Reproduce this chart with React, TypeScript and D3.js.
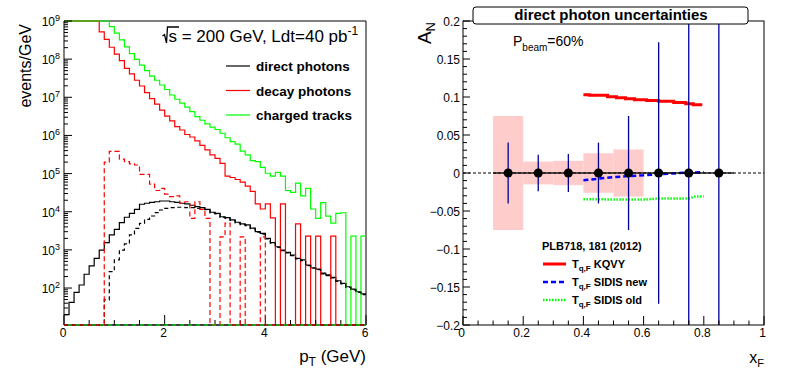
import * as d3 from 'd3'

const FONT = "'Liberation Sans', Arial, Helvetica, sans-serif"

// left pad: pT spectra in 0.1 GeV bins, 0 - 6 GeV
const ptLow = d3.range(60).map(i => i / 10)

const chargedTracks = [
  2e9, 2e9, 2e9, 2e9, 2e9, 2e9, 2e9, 2e9, 2e9, 7.1e8,
  4.8e8, 3.2e8, 2.1e8, 1.4e8, 9.9e7, 7.0e7, 5.0e7, 3.6e7, 2.8e7, 2.1e7,
  1.6e7, 1.15e7, 8.9e6, 7.0e6, 5.5e6, 4.2e6, 3.1e6, 2.5e6, 2.0e6, 1.66e6,
  1.43e6, 1.14e6, 8.7e5, 6.9e5, 5.9e5, 3.9e5, 3.1e5, 2.2e5, 2.05e5, 1.46e5,
  1.02e5, 8.6e4, 1.08e5, 8.6e4, 3.6e4, 3.2e4, 5.6e4, 2.6e4, 4.1e4, 1.18e4,
  6.7e3, 1.73e4, 7.7e3, 5.0e3, 9.1e3, 9.4e3, 0, 2.3e3, 0, 2.3e3,
]

const decayPhotons = [
  2e9, 2e9, 2e9, 2e9, 2e9, 2e9, 2e9, 5.2e8, 3.3e8, 2.05e8,
  1.36e8, 9.1e7, 5.75e7, 4.1e7, 2.8e7, 1.98e7, 1.32e7, 9.2e6, 6.6e6, 4.6e6,
  3.2e6, 2.4e6, 1.7e6, 1.39e6, 1.06e6, 9.1e5, 7.2e5, 5.5e5, 4.2e5, 3.1e5,
  2.5e5, 1.86e5, 8.6e4, 7.9e4, 7.0e4, 6.0e4, 4.7e4, 3.4e4, 1.6e4, 1.18e4,
  1.6e4, 6.9e3, 0, 1.6e4, 0, 0, 4.8e3, 0, 2.3e3, 0,
  2.3e3, 0, 0, 2.3e3, 0, 0, 0, 0, 0, 0,
]

const decayPhotonsDash = [
  0, 0, 0, 0, 0, 0, 0, 0, 2.0e5, 3.8e5,
  3.8e5, 2.4e5, 2.05e5, 1.79e5, 1.68e5, 9.5e4, 9.5e4, 5.3e4, 3.6e4, 4.1e4,
  2.9e4, 2.5e4, 2.6e4, 1.67e4, 1.83e4, 6.7e3, 1.83e4, 1.16e4, 6.7e3, 0,
  0, 2.2e3, 5.0e3, 0, 0, 2.2e3, 0, 0, 0, 2.2e3,
  0, 0, 0, 0, 0, 0, 0, 0, 0, 0,
  0, 0, 0, 0, 0, 0, 0, 0, 0, 0,
]

const directPhotons = [
  20, 42, 77, 120, 230, 380, 600, 990, 1550, 2460,
  3470, 5160, 7160, 9100, 1.16e4, 1.57e4, 1.67e4, 1.77e4, 1.83e4, 1.91e4,
  1.91e4, 1.83e4, 1.77e4, 1.67e4, 1.6e4, 1.48e4, 1.36e4, 1.28e4, 1.16e4, 9.7e3,
  9.1e3, 7.4e3, 7.0e3, 6.1e3, 5.3e3, 4.8e3, 4.5e3, 3.7e3, 3.0e3, 2.7e3,
  2.0e3, 1.55e3, 1.21e3, 990, 865, 735, 600, 545, 400, 340,
  315, 245, 220, 190, 155, 133, 108, 94, 80, 70,
]

const directPhotonsDash = [
  0, 0, 0, 0, 0, 0, 0, 0, 49, 270,
  545, 990, 1430, 2460, 3680, 4980, 6340, 7740, 9450, 1.11e4,
  1.23e4, 1.28e4, 1.31e4, 1.31e4, 1.28e4, 1.28e4, 1.23e4, 1.18e4, 1.13e4, 9.3e3,
  8.8e3, 7.1e3, 6.7e3, 5.9e3, 5.1e3, 4.6e3, 4.3e3, 3.6e3, 2.9e3, 2.6e3,
  1.95e3, 1.5e3, 1.17e3, 950, 830, 710, 580, 525, 385, 330,
  305, 236, 212, 183, 150, 128, 104, 90, 77, 67,
]

const leftLegend = ['direct photons', 'decay photons', 'charged tracks']
const leftLegendColors = ['#000000', '#ff0000', '#00ff00']

// right pad: A_N vs x_F
const xfPoints = [0.15, 0.25, 0.35, 0.45, 0.55, 0.65, 0.75, 0.85]
const anValues = [0, 0, 0, 0, 0, 0, 0, 0]
const anStatErr = [0.04, 0.024, 0.025, 0.04, 0.075, 0.172, 0.3, 0.3]
const sysLow = [0.1, 0.2, 0.3, 0.4, 0.5]
const sysHigh = [0.2, 0.3, 0.4, 0.5, 0.6]
const sysErr = [0.075, 0.015, 0.016, 0.026, 0.031]

const kqvyX = [0.40, 0.42, 0.48, 0.51, 0.54, 0.57, 0.61, 0.65, 0.70, 0.74, 0.765, 0.795]
const kqvyY = [0.103, 0.1022, 0.1004, 0.0991, 0.0978, 0.0964, 0.0955, 0.0943, 0.0929, 0.0912, 0.0899, 0.0899]
const sidisNewX = [0.40, 0.45, 0.50, 0.55, 0.60, 0.65, 0.70, 0.75, 0.80]
const sidisNewY = [-0.0095, -0.0075, -0.0055, -0.004, -0.003, -0.0015, -0.0005, 0.0005, 0.001]
const sidisOldX = [0.40, 0.45, 0.50, 0.55, 0.60, 0.65, 0.70, 0.75, 0.77, 0.80]
const sidisOldY = [-0.0345, -0.0345, -0.035, -0.035, -0.035, -0.0335, -0.0335, -0.0335, -0.031, -0.031]

export default function App() {
  const xL = d3.scaleLinear().domain([0, 6]).range([64, 366])
  const yL = d3.scaleLog().domain([10.74, 1e9]).range([325, 21])
  const xR = d3.scaleLinear().domain([0, 1]).range([463, 764])
  const yR = d3.scaleLinear().domain([-0.2, 0.2]).range([325, 21])

  const [yMin, yMax] = yL.domain()
  const hist = (vals: number[]) => {
    const pts: [number, number][] = vals.map((v, i) => [ptLow[i], Math.min(Math.max(v, yMin), yMax)])
    pts.push([6, pts[pts.length - 1][1]])
    return d3.line<[number, number]>()
      .x(d => xL(d[0]))
      .y(d => yL(d[1]))
      .curve(d3.curveStepAfter)(pts) || ''
  }
  const curve = (xs: number[], ys: number[]) =>
    d3.line<number>().x((_, i) => xR(xs[i])).y(d => yR(d))(ys) || ''
  const kqvyPath = d3.line<number>().x((_, i) => xR(kqvyX[i])).y(d => yR(d)).curve(d3.curveStepAfter)(kqvyY) || ''

  // log axis ticks
  const decades = d3.range(2, 10)
  const minorLog: number[] = []
  for (let d = 1; d < 9; d++) for (let k = 2; k < 10; k++) {
    const v = k * 10 ** d
    if (v >= yMin && v <= yMax) minorLog.push(v)
  }

  return (
    <svg width={796} height={374} style={{ position: 'absolute', left: 0, top: 0, background: '#fff' }}
      fontFamily={FONT}>
      <defs>
        <clipPath id="frameR"><rect x={463} y={21} width={301} height={304} /></clipPath>
      </defs>

      {/* ---------- left pad ---------- */}
      <g fill="none" stroke="#000" strokeWidth={1}>
        <line x1={64} x2={366} y1={21} y2={21} />
        <line x1={366} x2={366} y1={21} y2={325} />
      </g>
      <g fill="none" strokeWidth={1.2}>
        <path d={hist(directPhotons)} stroke="#000" />
        <path d={hist(decayPhotons)} stroke="#ff0000" />
        <path d={hist(chargedTracks)} stroke="#00ff00" />
      </g>
      <g stroke="#000" fill="none">
        <line x1={64} x2={366} y1={325} y2={325} strokeWidth={1.6} />
        <line x1={64} x2={64} y1={21} y2={325} />
        {decades.map(d => (
          <line key={d} x1={64} x2={72} y1={yL(10 ** d)} y2={yL(10 ** d)} />
        ))}
        {minorLog.map(v => (
          <line key={v} x1={64} x2={68} y1={yL(v)} y2={yL(v)} />
        ))}
        {d3.range(13).map(i => (
          <line key={i} x1={xL(i * 0.5)} x2={xL(i * 0.5)} y1={325} y2={i % 4 === 0 ? 315 : 320} />
        ))}
      </g>
      <g fill="none" strokeWidth={1.2}>
        <path d={hist(directPhotonsDash)} stroke="#000" strokeDasharray="4 3" />
        <path d={hist(decayPhotonsDash)} stroke="#ff0000" strokeDasharray="5 3" />
        <line x1={64} x2={366} y1={325} y2={325} stroke="#00ff00" strokeDasharray="4 4" strokeDashoffset={4} />
      </g>
      <g fontSize={12} textAnchor="end">
        {decades.map(d => (
          <text key={d} x={60} y={yL(10 ** d) + 5}>10<tspan dy={-5} fontSize={9}>{d}</tspan></text>
        ))}
      </g>
      <g fontSize={12} textAnchor="middle">
        {[0, 2, 4, 6].map(v => <text key={v} x={xL(v) - 1} y={337}>{v}</text>)}
      </g>
      <text transform="translate(31,24) rotate(-90)" textAnchor="end" fontSize={16}>events/GeV</text>
      <text x={366} y={362} textAnchor="end" fontSize={17}>
        p<tspan dy={4} fontSize={12}>T</tspan><tspan dy={-4}> (GeV)</tspan>
      </text>
      <path d="M162.5,36 L164.5,34.5 L166.5,43 L167.5,27 L179,27" fill="none" stroke="#000" strokeWidth={1.3} />
      <text x={168.5} y={42} fontSize={17}>
        s = 200 GeV, Ldt=40 pb<tspan dy={-7} fontSize={12}>-1</tspan>
      </text>
      {leftLegend.map((name, i) => (
        <g key={name}>
          <line x1={226} x2={250} y1={66 + i * 24.5} y2={66 + i * 24.5} stroke={leftLegendColors[i]} strokeWidth={1.2} />
          <text x={256} y={71 + i * 24.5} fontSize={13.5} fontWeight="bold">{name}</text>
        </g>
      ))}

      {/* ---------- right pad ---------- */}
      <g clipPath="url(#frameR)">
        {sysLow.map((lo, i) => (
          <rect key={lo} x={xR(lo)} width={xR(sysHigh[i]) - xR(lo)}
            y={yR(sysErr[i])} height={yR(-sysErr[i]) - yR(sysErr[i])} fill="#ffcccc" />
        ))}
        <line x1={xR(0)} x2={xR(1)} y1={yR(0)} y2={yR(0)} stroke="#000" strokeDasharray="3 2" />
        <path d={kqvyPath} fill="none" stroke="#ff0000" strokeWidth={3} />
        <path d={curve(sidisNewX, sidisNewY)} fill="none" stroke="#0000ff" strokeWidth={2.5} strokeDasharray="5 3" />
        <path d={curve(sidisOldX, sidisOldY)} fill="none" stroke="#00ff00" strokeWidth={2.5} strokeDasharray="1.5 1.5" />
        {xfPoints.map((x, i) => (
          <g key={x}>
            <line x1={xR(x)} x2={xR(x)} y1={yR(anValues[i] + anStatErr[i])} y2={yR(anValues[i] - anStatErr[i])}
              stroke="#000099" strokeWidth={1.3} />
            <line x1={xR(x - 0.05)} x2={xR(x + 0.05)} y1={yR(anValues[i])} y2={yR(anValues[i])}
              stroke="#000" strokeWidth={1.3} />
            <circle cx={xR(x)} cy={yR(anValues[i])} r={4.5} fill="#000" />
          </g>
        ))}
      </g>
      <g stroke="#000" fill="none">
        <rect x={463} y={21} width={301} height={304} />
        {d3.range(-20, 21).map(i => (
          <line key={i} x1={463} x2={463 + (i % 5 === 0 ? 7 : 4)} y1={yR(i / 100)} y2={yR(i / 100)} />
        ))}
        {d3.range(21).map(i => (
          <line key={i} x1={xR(i / 20)} x2={xR(i / 20)} y1={325} y2={325 - (i % 4 === 0 ? 9 : 4.5)} />
        ))}
      </g>
      <g fontSize={12} textAnchor="end">
        {d3.range(-4, 5).map(i => (
          <text key={i} x={460} y={yR(i * 0.05) + 4.5}>{d3.format('~g')(+(i * 0.05).toFixed(2))}</text>
        ))}
      </g>
      <g fontSize={12} textAnchor="middle">
        {[0, 0.2, 0.4, 0.6, 0.8, 1].map(v => <text key={v} x={xR(v) - 1.5} y={337}>{v}</text>)}
      </g>
      <text transform="translate(431,22) rotate(-90)" textAnchor="end" fontSize={19}>
        A<tspan dy={4} fontSize={13}>N</tspan>
      </text>
      <text x={764} y={363} textAnchor="end" fontSize={16}>
        x<tspan dy={4} fontSize={11}>F</tspan>
      </text>
      <text x={513} y={46} fontSize={14}>
        P<tspan dy={5} fontSize={10}>beam</tspan><tspan dy={-5}>=60%</tspan>
      </text>
      <rect x={473} y={7} width={275} height={17} rx={3} fill="#fff" stroke="#000" />
      <text x={611} y={19.5} textAnchor="middle" fontSize={15} fontWeight="bold">direct photon uncertainties</text>

      <text x={542} y={250} fontSize={11} fontWeight="bold">PLB718, 181 (2012)</text>
      <g fontSize={11} fontWeight="bold">
        <line x1={543} x2={566} y1={264} y2={264} stroke="#ff0000" strokeWidth={3} />
        <text x={572} y={268}>T<tspan dy={3} fontSize={8}>q,F</tspan><tspan dy={-3}> KQVY</tspan></text>
        <line x1={543} x2={566} y1={282} y2={282} stroke="#0000ff" strokeWidth={2.5} strokeDasharray="5 3" />
        <text x={572} y={286}>T<tspan dy={3} fontSize={8}>q,F</tspan><tspan dy={-3}> SIDIS new</tspan></text>
        <line x1={543} x2={566} y1={300} y2={300} stroke="#00ff00" strokeWidth={2.5} strokeDasharray="1.5 1.5" />
        <text x={572} y={304}>T<tspan dy={3} fontSize={8}>q,F</tspan><tspan dy={-3}> SIDIS old</tspan></text>
      </g>
    </svg>
  )
}
